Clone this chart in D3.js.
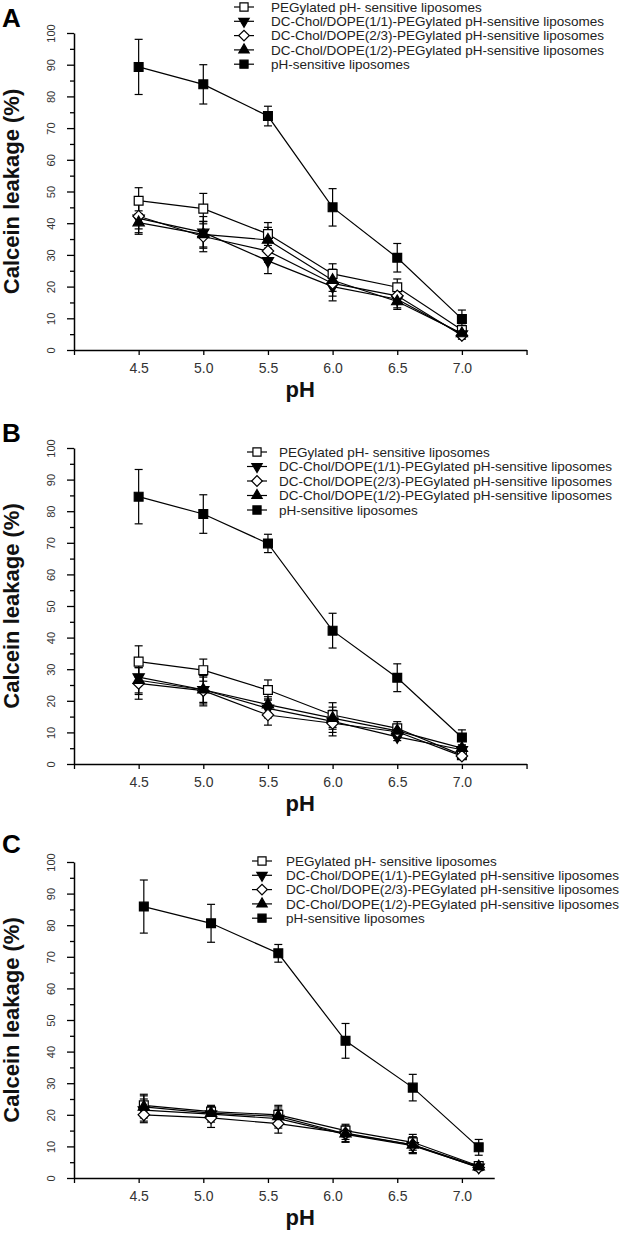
<!DOCTYPE html>
<html><head><meta charset="utf-8">
<script src="https://cdn.jsdelivr.net/npm/d3@7"></script>
<style>
body{margin:0;background:#fff;}
svg{display:block;font-family:"Liberation Sans",Arial,Helvetica,sans-serif;}
</style></head>
<body>
<svg id="chart" width="627" height="1233"></svg>
<script>
// ---------- data ----------
const seriesNames = [
  "PEGylated pH- sensitive liposomes",
  "DC-Chol/DOPE(1/1)-PEGylated pH-sensitive liposomes",
  "DC-Chol/DOPE(2/3)-PEGylated pH-sensitive liposomes",
  "DC-Chol/DOPE(1/2)-PEGylated pH-sensitive liposomes",
  "pH-sensitive liposomes"
];
const panelLetters = ["A","B","C"];
const phAB = [4.5, 5.0, 5.5, 6.0, 6.5, 7.0];
const phC  = [4.54, 5.06, 5.58, 6.10, 6.62, 7.13];
const xTickValues = [4.0, 4.5, 5.0, 5.5, 6.0, 6.5, 7.0, 7.5];
const xTickLabels = ["", "4.5", "5.0", "5.5", "6.0", "6.5", "7.0", ""];
const yTickValues = [0,10,20,30,40,50,60,70,80,90,100];
const yMinorTicks = [5,15,25,35,45,55,65,75,85,95];

// Panel A
const A_peg = [47.1, 44.6, 36.6, 24.0, 19.8, 6.3];
const A_peg_err = [4.1, 4.8, 3.6, 3.2, 2.6, 1.5];
const A_11 = [41.5, 37.1, 28.1, 20.0, 16.0, 5.0];
const A_11_err = [4.5, 5.0, 4.0, 4.5, 2.7, 1.2];
const A_23 = [42.2, 35.8, 31.2, 21.0, 17.1, 4.6];
const A_23_err = [4.0, 4.8, 3.5, 4.0, 2.5, 1.2];
const A_12 = [40.2, 36.5, 34.7, 22.0, 15.3, 5.2];
const A_12_err = [3.7, 4.0, 4.0, 3.5, 2.5, 1.2];
const A_ph = [89.3, 83.8, 73.8, 45.0, 29.1, 9.8];
const A_ph_err = [8.7, 6.2, 3.1, 5.9, 4.5, 2.8];

// Panel B
const B_peg = [32.4, 29.7, 23.4, 15.5, 11.3, 2.8];
const B_peg_err = [5.0, 3.5, 3.2, 3.9, 2.1, 1.0];
const B_11 = [27.5, 23.5, 17.6, 13.5, 8.6, 4.5];
const B_11_err = [5.5, 4.5, 3.0, 3.5, 1.2, 1.0];
const B_23 = [25.5, 23.2, 15.5, 12.9, 10.2, 2.5];
const B_23_err = [5.0, 4.8, 3.2, 4.0, 2.0, 1.0];
const B_12 = [26.5, 23.5, 18.8, 14.5, 10.5, 5.0];
const B_12_err = [4.0, 4.0, 2.5, 3.5, 2.0, 1.0];
const B_ph = [84.6, 79.1, 69.8, 42.2, 27.3, 8.4];
const B_ph_err = [8.6, 6.1, 2.9, 5.5, 4.4, 2.4];

// Panel C
const C_peg = [23.0, 21.0, 20.0, 15.0, 11.3, 3.8];
const C_peg_err = [3.5, 2.0, 3.0, 2.0, 2.5, 1.0];
const C_11 = [21.5, 20.2, 18.8, 13.8, 10.2, 3.4];
const C_11_err = [3.5, 2.5, 3.0, 2.5, 2.5, 1.0];
const C_23 = [20.0, 19.0, 17.2, 14.2, 10.5, 3.3];
const C_23_err = [2.5, 3.0, 3.0, 2.0, 2.5, 1.0];
const C_12 = [22.5, 20.5, 19.5, 14.0, 10.5, 3.6];
const C_12_err = [3.5, 2.0, 3.0, 2.5, 2.5, 1.0];
const C_ph = [85.9, 80.6, 71.1, 43.4, 28.6, 9.7];
const C_ph_err = [8.4, 6.0, 2.8, 5.5, 4.2, 2.5];

// ---------- layout ----------
const panels = [
  {x: phAB, vals:[A_peg,A_11,A_23,A_12,A_ph], errs:[A_peg_err,A_11_err,A_23_err,A_12_err,A_ph_err],
   top:33, bot:350, xEnd:7.5, letterY:27, leg:{sx:244, tx:271, y0:7, dy:14.3}},
  {x: phAB, vals:[B_peg,B_11,B_23,B_12,B_ph], errs:[B_peg_err,B_11_err,B_23_err,B_12_err,B_ph_err],
   top:448, bot:764, xEnd:7.5, letterY:442, leg:{sx:257, tx:279, y0:452, dy:14.5}},
  {x: phC, vals:[C_peg,C_11,C_23,C_12,C_ph], errs:[C_peg_err,C_11_err,C_23_err,C_12_err,C_ph_err],
   top:862, bot:1178, xEnd:7.25, letterY:853, leg:{sx:262, tx:286, y0:861, dy:14.3}}
];

const markers = [
  {type:d3.symbolSquare, size:78, fill:"#fff", rot:0},
  {type:d3.symbolTriangle, size:55, fill:"#000", rot:180},
  {type:d3.symbolSquare, size:66, fill:"#fff", rot:45},
  {type:d3.symbolTriangle, size:55, fill:"#000", rot:0},
  {type:d3.symbolSquare, size:78, fill:"#000", rot:0}
];

const svg = d3.select("#chart");
const x0px = 74, pxPerUnit = 129.3; // pixel per pH unit

panels.forEach((p, pi) => {
  const x = d3.scaleLinear().domain([4, p.xEnd]).range([x0px, x0px + (p.xEnd - 4) * pxPerUnit]);
  const y = d3.scaleLinear().domain([0, 100]).range([p.bot, p.top]);
  const g = svg.append("g");

  // y axis
  const ya = g.append("g").attr("transform", `translate(${x0px},0)`)
    .call(d3.axisLeft(y).tickValues(yTickValues).tickSize(7).tickSizeOuter(0).tickFormat(d3.format("d")));
  ya.select(".domain").attr("stroke", "#000").attr("stroke-width", 1.5);
  ya.selectAll(".tick line").attr("stroke", "#000").attr("stroke-width", 1.3);
  ya.selectAll(".tick text")
    .attr("transform", "rotate(-90)")
    .attr("x", 0).attr("y", -23).attr("dy", "0.35em")
    .attr("text-anchor", "middle")
    .attr("font-size", 11).attr("fill", "#333")
    .attr("font-family", "Liberation Sans, Arial, sans-serif");
  const ym = g.append("g").attr("transform", `translate(${x0px},0)`)
    .call(d3.axisLeft(y).tickValues(yMinorTicks).tickSize(4).tickSizeOuter(0).tickFormat(""));
  ym.select(".domain").remove();
  ym.selectAll(".tick line").attr("stroke", "#000").attr("stroke-width", 1.3);

  // x axis
  const ticksHere = xTickValues.filter(v => v <= p.xEnd);
  const xa = g.append("g").attr("transform", `translate(0,${p.bot})`)
    .call(d3.axisBottom(x).tickValues(ticksHere).tickSize(5).tickSizeOuter(0)
      .tickFormat((d) => xTickLabels[xTickValues.indexOf(d)]));
  xa.select(".domain").attr("stroke", "#000").attr("stroke-width", 1.5);
  xa.selectAll(".tick line").attr("stroke", "#000").attr("stroke-width", 1.3);
  xa.selectAll(".tick text").attr("y", 13).attr("dy", "0.71em")
    .attr("font-size", 14).attr("fill", "#333")
    .attr("font-family", "Liberation Sans, Arial, sans-serif");

  // axis titles
  g.append("text")
    .attr("transform", `translate(19,${(p.top + p.bot) / 2}) rotate(-90)`)
    .attr("text-anchor", "middle").attr("font-weight", "bold").attr("font-size", 22)
    .attr("fill", "#111").text("Calcein leakage (%)");
  g.append("text")
    .attr("x", (x0px + x0px + 3.5 * pxPerUnit) / 2).attr("y", p.bot + 47)
    .attr("text-anchor", "middle").attr("font-weight", "bold").attr("font-size", 22)
    .attr("fill", "#111").text("pH");
  g.append("text").attr("x", 2).attr("y", p.letterY)
    .attr("font-weight", "bold").attr("font-size", 26).attr("fill", "#000")
    .text(panelLetters[pi]);

  // error bars
  const cap = 4;
  p.vals.forEach((vals, si) => {
    const errs = p.errs[si];
    const eg = g.append("g").attr("stroke", "#000").attr("stroke-width", 1.2);
    vals.forEach((v, i) => {
      const cx = x(p.x[i]);
      const y1 = y(v + errs[i]), y2 = y(v - errs[i]);
      eg.append("line").attr("x1", cx).attr("x2", cx).attr("y1", y1).attr("y2", y2);
      eg.append("line").attr("x1", cx - cap).attr("x2", cx + cap).attr("y1", y1).attr("y2", y1);
      eg.append("line").attr("x1", cx - cap).attr("x2", cx + cap).attr("y1", y2).attr("y2", y2);
    });
  });
  // lines
  const line = d3.line().x((d) => x(d[0])).y((d) => y(d[1]));
  p.vals.forEach((vals) => {
    g.append("path").datum(vals.map((v, i) => [p.x[i], v]))
      .attr("d", line).attr("fill", "none").attr("stroke", "#000").attr("stroke-width", 1.2);
  });
  // markers
  p.vals.forEach((vals, si) => {
    const m = markers[si];
    g.append("g").selectAll("path").data(vals).join("path")
      .attr("d", d3.symbol().type(m.type).size(m.size))
      .attr("transform", (v, i) => `translate(${x(p.x[i])},${y(v)}) rotate(${m.rot})`)
      .attr("fill", m.fill).attr("stroke", "#000").attr("stroke-width", 1.2);
  });

  // legend
  const L = p.leg;
  seriesNames.forEach((name, si) => {
    const ly = L.y0 + si * L.dy;
    const m = markers[si];
    g.append("line").attr("x1", L.sx - 10).attr("x2", L.sx + 10).attr("y1", ly).attr("y2", ly)
      .attr("stroke", "#000").attr("stroke-width", 1.2);
    g.append("path").attr("d", d3.symbol().type(m.type).size(m.size * 0.85))
      .attr("transform", `translate(${L.sx},${ly}) rotate(${m.rot})`)
      .attr("fill", m.fill).attr("stroke", "#000").attr("stroke-width", 1.2);
    g.append("text").attr("x", L.tx).attr("y", ly).attr("dy", "0.36em")
      .attr("font-size", 13.5).attr("fill", "#222").text(name);
  });
});
</script>
</body></html>
